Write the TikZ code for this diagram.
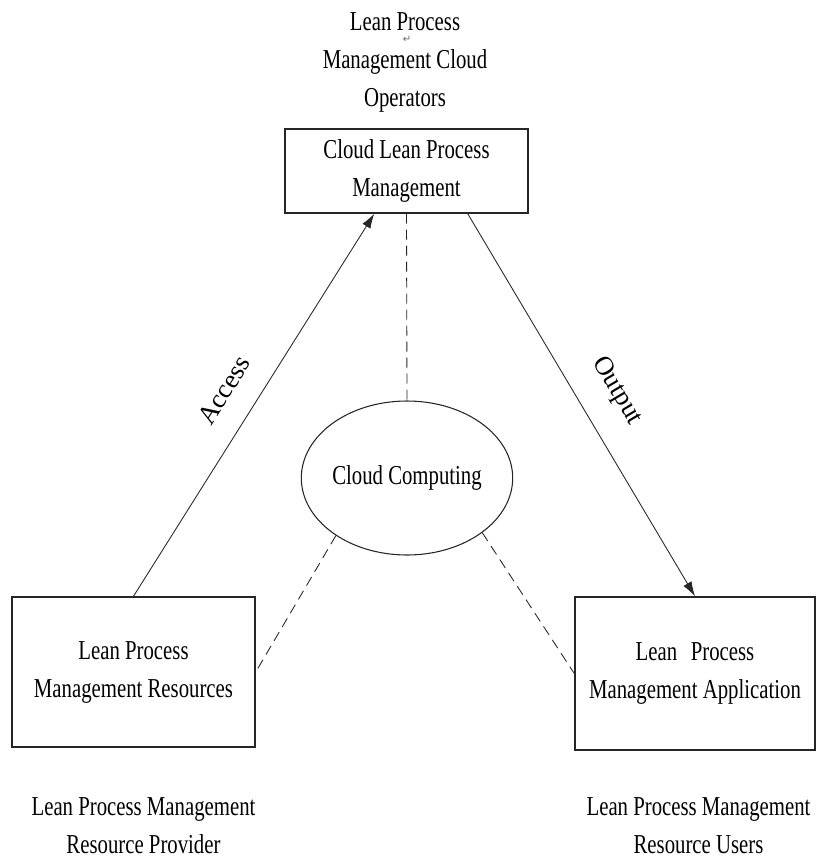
\documentclass[tikz,border=0pt]{standalone}
\usepackage{fontspec}
\setmainfont[FakeStretch=0.76]{Liberation Serif}
\newfontfamily\labelfont{Liberation Serif}
\newfontfamily\symfont{DejaVu Sans}
\usetikzlibrary{arrows.meta,shapes.geometric}
\begin{document}
\begin{tikzpicture}[x=0.75pt,y=-0.75pt,
  txt/.style={font=\fontsize{20.5}{28.5}\selectfont, align=center, inner sep=0pt},
  box/.style={txt, draw=black!85, line width=1.1pt, rectangle},
  cloud/.style={txt, draw=black!85, line width=0.8pt, ellipse, inner sep=0pt},
  flow/.style={draw=black!85, line width=0.65pt, -{Latex[length=11pt,width=7pt]}},
  link/.style={draw=black!85, line width=0.65pt, dash pattern=on 7.5pt off 4.5pt},
  lab/.style={font=\labelfont\fontsize{20}{24}\selectfont, inner sep=0pt}
]
\useasboundingbox (0,0) rectangle (816,861);

% text labels above/below
\node[txt] (op) at (405,62) {Lean Process\\Management Cloud\\Operators};
\node[font=\symfont\fontsize{7.5}{7.5}\selectfont, text=black!60, inner sep=0pt] (ret) at (407,39) {↵};
\node[txt] (prov) at (143.5,826) {Lean Process Management\\Resource Provider};
\node[txt] (users) at (698.5,826) {Lean Process Management\\Resource Users};

% boxes
\node[box, minimum width=182.25pt, minimum height=63pt] (tb) at (406.5,171) {Cloud Lean Process\\Management};
\node[box, minimum width=182.25pt, minimum height=112.5pt] (lb) at (133.5,672) {Lean Process\\Management Resources};
\node[box, minimum width=180pt, minimum height=114.75pt] (rb) at (695,673.5) {Lean\enspace Process\\Management Application};

% ellipse
\node[cloud, minimum width=144pt, minimum height=115.5pt] (cc) at (407,478) {Cloud Computing};

% arrows
\draw[flow] (lb.north) -- ([xshift=67.5pt]tb.south west);
\draw[flow] ([xshift=-45.75pt]tb.south east) -- (rb.north);

% dashed links
\draw[link] (tb.south) -- (cc.north);
\draw[link] (cc.219) -- (lb.east);
\draw[link] (cc.324) -- (rb.west);

% arrow labels
\node[lab, rotate=57.8] (acc) at (224,390) {Access};
\node[lab, rotate=-59.3] (out) at (617,391) {Output};
\end{tikzpicture}
\end{document}
